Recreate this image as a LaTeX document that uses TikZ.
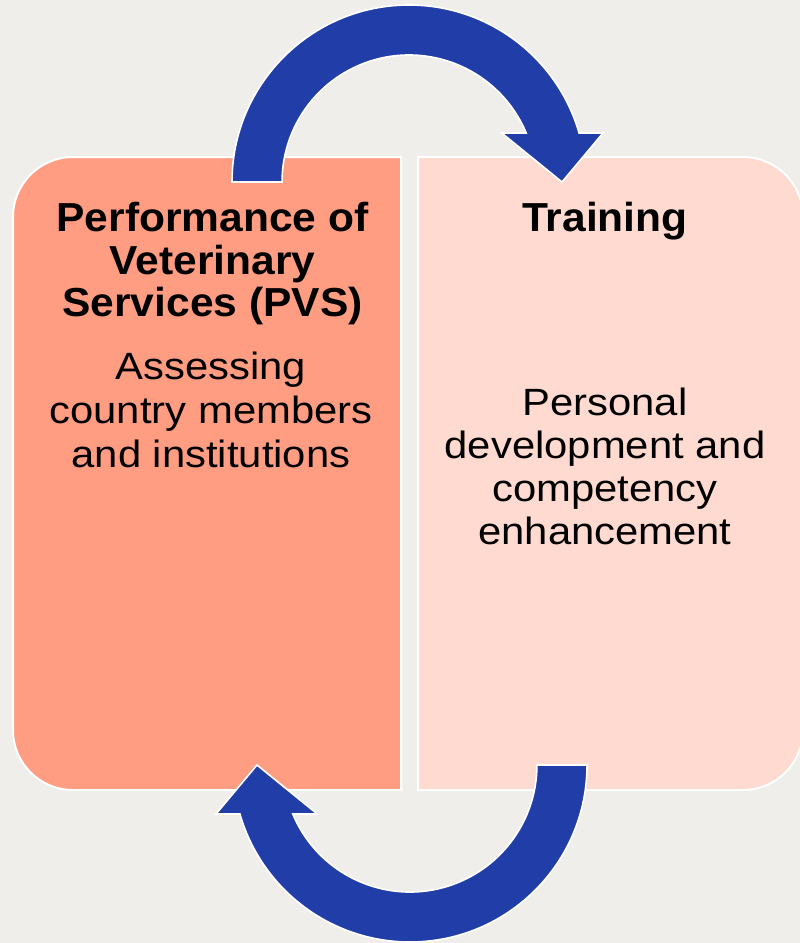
\documentclass[tikz,border=0pt]{standalone}
\usepackage{fontspec}
\setmainfont{Liberation Sans}
\newfontfamily\headfont{Liberation Sans}[FakeStretch=1.05]
\newfontfamily\bodyfont{Liberation Sans}[FakeStretch=1.1]
\definecolor{bgcol}{RGB}{239,238,234}
\definecolor{leftcol}{RGB}{255,157,130}
\definecolor{rightcol}{RGB}{255,218,208}
\definecolor{arrowcol}{RGB}{33,61,168}
\begin{document}
\begin{tikzpicture}[x=1pt,y=-1pt,
  boxshape/.style={fill=#1,draw=white,line width=2pt},
  cyclearrow/.style={fill=arrowcol,draw=white,line width=1.6pt,line join=miter},
  headtext/.style={anchor=base,inner sep=0pt,font={\headfont\bfseries\fontsize{40.5}{44}\selectfont}},
  bodytext/.style={anchor=base,inner sep=0pt,font={\bodyfont\fontsize{38}{44}\selectfont}}]
\useasboundingbox (0,0) rectangle (800,943);
\clip (0,0) rectangle (800,943);
\fill[bgcol] (0,0) rectangle (800,943);
% boxes
\draw[boxshape=leftcol] (401,157) -- (73,157) arc[start angle=-90,end angle=-180,radius=60]
  -- (13,730) arc[start angle=180,end angle=90,radius=60] -- (401,790) -- cycle;
\draw[boxshape=rightcol] (418,157) -- (743,157) arc[start angle=-90,end angle=0,radius=60]
  -- (803,730) arc[start angle=0,end angle=90,radius=60] -- (418,790) -- cycle;
% texts left
\node[headtext] (h1) at (212.5,231.5) {Performance of};
\node[headtext] (h2) at (212.5,274) {Veterinary};
\node[headtext] (h3) at (212.5,316.5) {Services (PVS)};
\node[bodytext] (b1) at (211,379.5) {Assessing};
\node[bodytext] (b2) at (211,423) {country members};
\node[bodytext] (b3) at (211,467) {and institutions};
% texts right
\node[headtext] (t1) at (605,231.5) {Training};
\node[bodytext] (p1) at (605,415) {Personal};
\node[bodytext] (p2) at (605,458.5) {development and};
\node[bodytext] (p3) at (605,501.5) {competency};
\node[bodytext] (p4) at (605,544) {enhancement};
% arrows
\begin{scope}[shift={(409,182)}]
\draw[cyclearrow] (-177,0) arc[start angle=-180,end angle=-16.07,radius=177]
  -- (194,-49) -- (153,0) -- (92.7,-49) -- (117.2,-49)
  arc[start angle=-22.70,end angle=-180,radius=127] -- cycle;
\end{scope}
\begin{scope}[shift={(410,765)},rotate=180]
\draw[cyclearrow] (-177,0) arc[start angle=-180,end angle=-16.07,radius=177]
  -- (194,-49) -- (153,0) -- (92.7,-49) -- (117.2,-49)
  arc[start angle=-22.70,end angle=-180,radius=127] -- cycle;
\end{scope}
\end{tikzpicture}
\end{document}
